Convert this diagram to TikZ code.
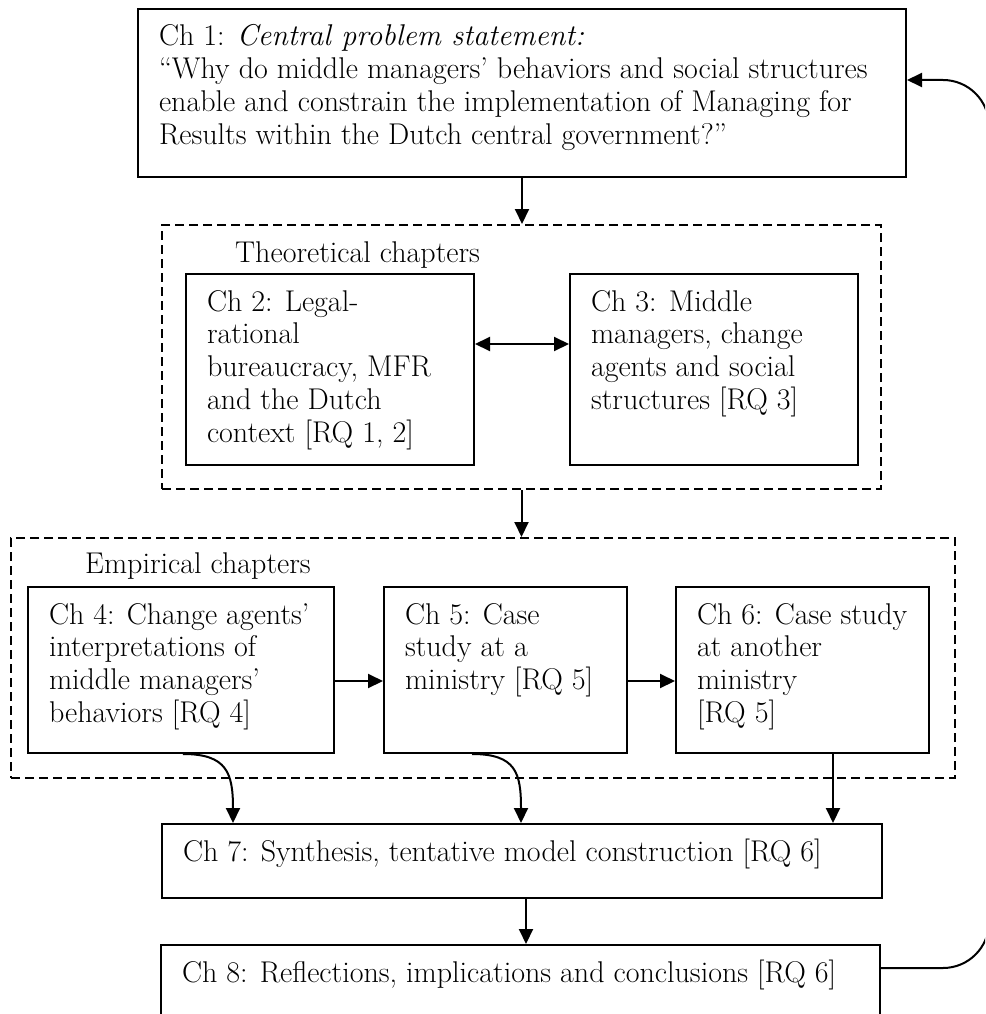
\documentclass[tikz,border=0pt]{standalone}
\usetikzlibrary{arrows.meta,calc}
% body text of the chapter boxes
\newcommand\chfont{\fontsize{30}{32.8}\selectfont}
% fixed-size, top-aligned text block: width, height, text
\newcommand\chtext[3]{\parbox[t][#2][t]{#1}{\raggedright\rule{0pt}{37pt}#3}}
\begin{document}
\begin{tikzpicture}[x=1pt,y=-1pt,
  chbox/.style={draw, line width=2pt, anchor=north west, inner xsep=21pt, inner ysep=0pt, font=\chfont},
  group/.style={draw, dash pattern=on 9pt off 5pt, line width=2pt, anchor=north west, inner sep=0pt},
  grouplabel/.style={anchor=base west, inner sep=0pt, font=\chfont},
  conn/.style={line width=2pt, -{Triangle[length=15pt,width=14pt]}},
  biconn/.style={line width=2pt, {Triangle[length=15pt,width=14pt]}-{Triangle[length=15pt,width=14pt]}},
]
\useasboundingbox (0,0) rectangle (985,1014);
\clip (0,0) rectangle (985,1014);

% central problem statement
\node[chbox] (ch1) at (137,8) {\chtext{726pt}{168pt}{Ch 1: \textit{Central problem statement:}\\
“Why do middle managers’ behaviors and social structures\\
enable and constrain the implementation of Managing for\\
Results within the Dutch central government?”}};

% theoretical chapters
\node[group, minimum width=719pt, minimum height=264pt] (theo) at (161,224) {};
\node[grouplabel] (theolbl) at (235,262) {Theoretical chapters};
\node[chbox] (ch2) at (185,273) {\chtext{246pt}{191pt}{Ch 2: Legal-\\rational\\bureaucracy, MFR\\and the Dutch\\context [RQ 1, 2]}};
\node[chbox] (ch3) at (569,273) {\chtext{246pt}{191pt}{Ch 3: Middle\\managers, change\\agents and social\\structures [RQ 3]}};

% empirical chapters
\node[group, minimum width=944pt, minimum height=240pt] (emp) at (10,537) {};
\node[grouplabel] (emplbl) at (85,573) {Empirical chapters};
\node[chbox] (ch4) at (27,586) {\chtext{264pt}{166pt}{Ch 4: Change agents’\\interpretations of\\middle managers’\\behaviors [RQ 4]}};
\node[chbox] (ch5) at (383,586) {\chtext{201pt}{166pt}{Ch 5: Case\\study at a\\ministry [RQ 5]}};
\node[chbox] (ch6) at (675,586) {\chtext{211pt}{166pt}{Ch 6: Case study\\at another\\ministry\\{}[RQ 5]}};

% synthesis and conclusions
\node[chbox] (ch7) at (161,823) {\chtext{678pt}{74pt}{Ch 7: Synthesis, tentative model construction [RQ 6]}};
\node[chbox] (ch8) at (160,944) {\chtext{677pt}{74pt}{Ch 8: Reflections, implications and conclusions [RQ 6]}};

% connectors
\draw[conn] (ch1.south) -- (ch1.south |- theo.north);
\draw[conn] (theo.south) -- (theo.south |- emp.north);
\coordinate (a2) at ($(ch2.north east)+(0,71)$);
\draw[biconn] (a2) -- (a2 -| ch3.west);
\coordinate (a4) at ($(ch4.north east)+(0,95)$);
\draw[conn] (a4) -- (a4 -| ch5.west);
\coordinate (a5) at ($(ch5.north east)+(0,95)$);
\draw[conn] (a5) -- (a5 -| ch6.west);

\coordinate (s4) at ($(ch4.south west)+(156,0)$);
\coordinate (e4) at ($(ch7.north west)+(72,0)$);
\draw[conn] (s4) .. controls +(44,0) and +(0,-50) .. (e4);
\coordinate (s5) at ($(ch5.south west)+(89,0)$);
\coordinate (e5) at ($(ch7.north west)+(360,0)$);
\draw[conn] (s5) .. controls +(44,0) and +(0,-50) .. (e5);
\coordinate (s6) at ($(ch6.south west)+(158,0)$);
\draw[conn] (s6) -- (s6 |- ch7.north);
\coordinate (s7) at ($(ch7.south west)+(365,0)$);
\draw[conn] (s7) -- (s7 |- ch8.north);

% feedback loop from the conclusions back to the problem statement
\coordinate (fbA) at ($(ch8.north east)+(0,24)$);
\coordinate (fbB) at ($(ch1.north east)+(0,72)$);
\coordinate (rail) at (989,0);
\draw[conn, rounded corners=46pt] (fbA) -- (fbA -| rail) -- (fbB -| rail) -- (fbB);
\end{tikzpicture}
\end{document}
